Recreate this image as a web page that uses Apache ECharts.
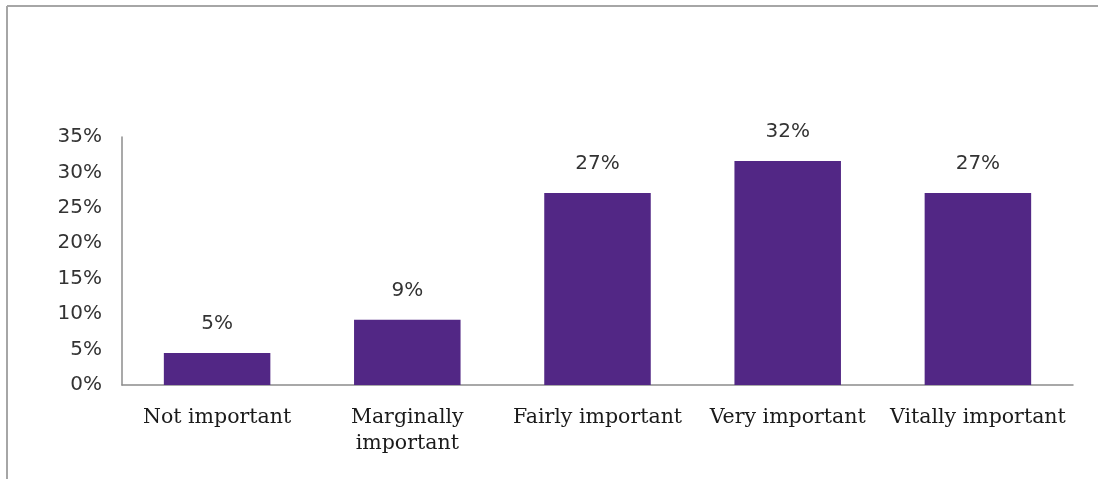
<!DOCTYPE html>
<html>
<head>
<meta charset="utf-8">
<script src="https://cdn.jsdelivr.net/npm/echarts@6/dist/echarts.min.js"></script>
<style>
  html, body { margin: 0; padding: 0; background: #ffffff; }
  #chart { width: 1098px; height: 479px; }
</style>
</head>
<body>
<div id="chart"></div>
<script>
// Survey answers: how important is it?
const categories = ['Not important', 'Marginally\nimportant', 'Fairly important', 'Very important', 'Vitally important'];
const shares = [4.5, 9.2, 27.1, 31.6, 27.1];   // percent of respondents
const yTicks = { min: 0, max: 35, step: 5 };

const chart = echarts.init(document.getElementById('chart'), null, { renderer: 'canvas' });

chart.setOption({
  backgroundColor: '#ffffff',
  animation: false,
  graphic: [
    // frame edges around the chart area
    { type: 'line', shape: { x1: 7, y1: 6, x2: 1098, y2: 6 }, style: { stroke: '#a6a6a6', lineWidth: 2 } },
    { type: 'line', shape: { x1: 7, y1: 6, x2: 7, y2: 479 }, style: { stroke: '#a6a6a6', lineWidth: 2 } }
  ],
  grid: { left: 122, right: 25, top: 137, bottom: 94, containLabel: false },
  xAxis: {
    type: 'category',
    data: categories,
    axisLine: { show: true, lineStyle: { color: '#8c8c8c', width: 1.5 } },
    axisTick: { show: false },
    axisLabel: {
      interval: 0,
      margin: 20,
      fontFamily: 'DejaVu Serif',
      fontSize: 20.5,
      lineHeight: 26,
      color: '#1a1a1a'
    }
  },
  yAxis: {
    type: 'value',
    min: yTicks.min,
    max: yTicks.max,
    interval: yTicks.step,
    splitLine: { show: false },
    axisLine: { show: true, lineStyle: { color: '#8c8c8c', width: 1.5 } },
    axisTick: { show: false },
    axisLabel: {
      margin: 20,
      fontFamily: 'DejaVu Sans',
      fontSize: 20,
      color: '#333333',
      formatter: v => v + '%'
    }
  },
  series: [{
    type: 'bar',
    data: shares,
    barWidth: '56%',
    itemStyle: { color: '#522785' },
    label: {
      show: true,
      position: 'top',
      distance: 19,
      fontFamily: 'DejaVu Sans',
      fontSize: 20,
      color: '#333333',
      formatter: p => Math.round(p.value) + '%'
    }
  }]
});
</script>
</body>
</html>
